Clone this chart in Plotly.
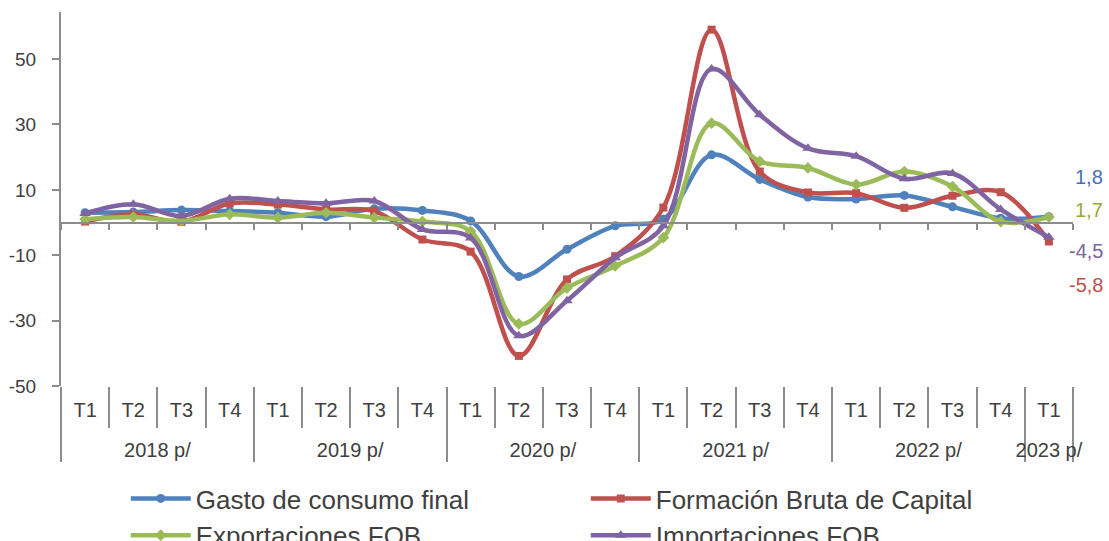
import plotly.graph_objects as go

year_names = ["2018 p/", "2019 p/", "2020 p/", "2021 p/", "2022 p/", "2023 p/"]
quarter_names = ["T1", "T2", "T3", "T4"]
years = [y for y in year_names[:5] for _ in range(4)] + [year_names[5]]
quarters = quarter_names * 5 + ["T1"]

gasto = [3.0, 3.2, 3.8, 3.5, 3.0, 1.8, 4.2, 3.7, 0.5, -16.5, -8.2, -1.0, 1.0, 20.7, 13.2, 7.8, 7.2, 8.3, 4.8, 1.3, 1.8]
fbk = [0.3, 2.5, 0.2, 5.8, 5.5, 4.0, 3.5, -5.2, -8.9, -40.8, -17.4, -10.3, 4.6, 59.0, 15.6, 9.2, 9.0, 4.5, 8.2, 9.3, -5.8]
export = [1.0, 1.7, 0.5, 2.5, 1.5, 3.0, 1.5, 0.3, -2.7, -31.0, -20.0, -13.3, -4.6, 30.4, 18.7, 16.7, 11.6, 15.6, 11.0, 0.3, 1.7]
importe = [2.8, 5.6, 2.0, 7.3, 6.6, 5.9, 6.6, -2.1, -4.7, -34.6, -23.9, -10.8, -1.0, 47.0, 33.0, 22.7, 20.3, 13.4, 15.0, 4.0, -4.5]

names = ["Gasto de consumo final", "Formación Bruta de Capital", "Exportaciones FOB", "Importaciones FOB"]
series = [gasto, fbk, export, importe]
colors = ["#4F81BD", "#C0504D", "#9BBB59", "#8064A2"]
symbols = ["circle", "square", "diamond", "triangle-up"]
msizes = [9, 8, 9, 10]
label_texts = ["1,8", "-5,8", "1,7", "-4,5"]
label_colors = ["#4A6FB3", "#C0504D", "#9AA83C", "#7B62A0"]
label_shifts = [40, -43, 7, -14]

ytickvals = [-50, -30, -10, 10, 30, 50]
yticktext = ["-50", "-30", "-10", "10", "30", "50"]
ymin, ymax = -50, 64.4

FONT = "Liberation Sans, Arial, sans-serif"
TXT = "#404040"
AX = "#8C8C8C"

# level-2 labels get a leading blank line so they sit lower, as in the reference
years_disp = ["&nbsp;<br>" + y for y in years]

fig = go.Figure()
for name, vals, col, sym, ms in zip(names, series, colors, symbols, msizes):
    fig.add_trace(go.Scatter(
        x=[years_disp, quarters], y=vals, name=name, mode="lines+markers",
        line=dict(color=col, width=4.5, shape="spline", smoothing=1.0),
        marker=dict(symbol=sym, size=ms, color=col),
    ))

n = len(quarters)
bounds = [i - 0.5 for i in range(n + 1)]
fig.add_trace(go.Scatter(x=[0], y=[0], xaxis="x2", mode="markers", marker=dict(opacity=0),
                         showlegend=False, hoverinfo="skip"))
fig.add_trace(go.Scatter(x=[0], y=[0], xaxis="x3", mode="markers", marker=dict(opacity=0),
                         showlegend=False, hoverinfo="skip"))

for txt, col, vals, sh in zip(label_texts, label_colors, series, label_shifts):
    fig.add_annotation(x=n - 1, y=vals[-1], xref="x", yref="y", text=txt, showarrow=False,
                       xanchor="right", yanchor="middle", xshift=56, yshift=sh,
                       font=dict(family=FONT, size=20, color=col))

zero_pos = (0 - ymin) / (ymax - ymin)

fig.update_layout(
    width=1109, height=541,
    margin=dict(l=61, r=36, t=12, b=155, autoexpand=False),
    paper_bgcolor="white", plot_bgcolor="white",
    font=dict(family=FONT, color=TXT, size=20),
    showlegend=True,
    legend=dict(orientation="h", x=0.064, xanchor="left", y=-0.238, yanchor="top",
                font=dict(family=FONT, size=26, color=TXT), entrywidth=385,
                itemwidth=60, tracegroupgap=0, bgcolor="rgba(0,0,0,0)"),
    xaxis=dict(type="multicategory", range=[-0.5, n - 0.5], showline=False, ticks="",
               showgrid=False, zeroline=False, showdividers=True, dividercolor=AX,
               dividerwidth=2, ticklabelstandoff=10, automargin=False,
               tickfont=dict(family=FONT, size=20, color=TXT)),
    xaxis2=dict(overlaying="x", anchor="free", position=zero_pos, range=[-0.5, n - 0.5],
                tickmode="array", tickvals=bounds, ticks="outside", ticklen=6, tickwidth=2,
                tickcolor=AX, showticklabels=False, showgrid=False, zeroline=False,
                showline=True, linecolor=AX, linewidth=2),
    xaxis3=dict(overlaying="x", anchor="free", position=0, range=[-0.5, n - 0.5],
                tickmode="array", tickvals=bounds, ticks="outside", ticklen=41, tickwidth=2,
                tickcolor=AX, showticklabels=False, showgrid=False, zeroline=False,
                showline=False),
    yaxis=dict(range=[ymin, ymax], tickmode="array", tickvals=ytickvals, ticktext=yticktext,
               ticks="outside", ticklen=7, tickwidth=2, tickcolor=AX, showline=True,
               linecolor=AX, linewidth=2, showgrid=False, zeroline=False,
               ticklabelstandoff=12, automargin=False,
               tickfont=dict(family=FONT, size=19, color=TXT)),
)

fig.write_html("out.html", config={"displayModeBar": False},
               post_script="document.body.style.margin='0px';")
